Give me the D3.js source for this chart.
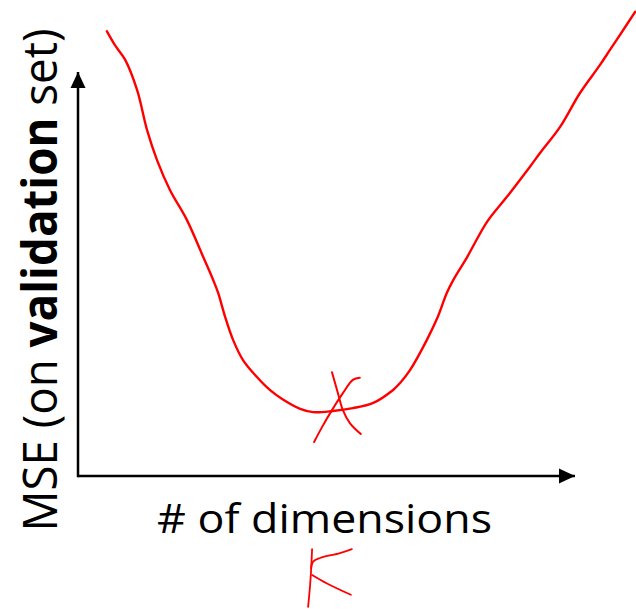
<!DOCTYPE html>
<html>
<head>
<meta charset="utf-8">
<script src="https://cdn.jsdelivr.net/npm/d3@7"></script>
<style>
  body { margin: 0; background: #fff; }
  svg { display: block; }
  text { font-family: "Open Sans", "Noto Sans", sans-serif; fill: #000; }
</style>
</head>
<body>
<div id="chart"></div>
<script>
// validation error curve (x = # of dimensions, y = MSE)
var curveX = [0.58, 0.74, 0.95, 1.19, 1.39, 1.59, 1.85, 2.19, 2.52, 2.72, 2.82, 2.96, 3.12, 3.32, 3.60, 3.86, 4.10, 4.47, 4.73, 5.13, 5.53, 5.94, 6.34, 6.48, 6.68, 7.02, 7.24, 7.42, 7.55, 7.83, 8.23, 8.63, 9.09, 9.30, 9.70, 10.10, 10.50, 10.70, 10.97, 11.21];
var curveY = [11.01, 10.67, 10.30, 9.55, 8.56, 7.82, 7.08, 6.34, 5.42, 4.85, 4.53, 3.94, 3.37, 2.87, 2.45, 2.13, 1.91, 1.66, 1.58, 1.61, 1.68, 1.81, 2.13, 2.30, 2.62, 3.37, 3.94, 4.53, 4.85, 5.42, 6.29, 6.91, 7.65, 8.00, 8.64, 9.48, 10.17, 10.54, 11.04, 11.49];

// hand-drawn "X" at the minimum
var cross1X = [5.11, 5.23, 5.33, 5.47, 5.69];
var cross1Y = [2.57, 2.05, 1.63, 1.31, 1.04];
var cross2X = [5.67, 5.53, 5.33, 5.11, 4.91, 4.75];
var cross2Y = [2.43, 2.38, 2.05, 1.63, 1.21, 0.84];

// hand-drawn "K" under the axis label
var kStemX = [4.71, 4.69, 4.67, 4.63];
var kStemY = [-1.81, -2.33, -2.70, -3.24];
var kArm1X = [5.51, 5.27, 4.87, 4.73, 4.69];
var kArm1Y = [-1.81, -1.91, -2.03, -2.12, -2.28];
var kArm2X = [4.71, 5.01, 5.49];
var kArm2Y = [-2.45, -2.66, -2.94];

var xLabel = "# of dimensions";
var yLabelParts = [["MSE (on ", "normal"], ["validation", "bold"], [" set)", "normal"]];

var W = 636, H = 609;
var margin = { left: 78, right: 61, top: 72, bottom: 133 };

var svg = d3.select("#chart").append("svg")
    .attr("width", W)
    .attr("height", H);

var x = d3.scaleLinear().domain([0, 10]).range([margin.left, W - margin.right]);
var y = d3.scaleLinear().domain([0, 10]).range([H - margin.bottom, margin.top]);

// arrow marker
svg.append("defs").append("marker")
    .attr("id", "arrow")
    .attr("viewBox", "0 0 16 16")
    .attr("refX", 16)
    .attr("refY", 8)
    .attr("markerWidth", 16)
    .attr("markerHeight", 16)
    .attr("markerUnits", "userSpaceOnUse")
    .attr("orient", "auto")
    .append("path")
    .attr("d", "M0,0.5 L16,8 L0,15.5 Z")
    .attr("fill", "#000");

// axes (no ticks, just arrows)
svg.append("line")
    .attr("x1", x(0)).attr("y1", y(0))
    .attr("x2", x(10)).attr("y2", y(0))
    .attr("stroke", "#000").attr("stroke-width", 2.5)
    .attr("marker-end", "url(#arrow)");
svg.append("line")
    .attr("x1", x(0)).attr("y1", y(0) + 1.25)
    .attr("x2", x(0)).attr("y2", y(10))
    .attr("stroke", "#000").attr("stroke-width", 2.5)
    .attr("marker-end", "url(#arrow)");

var line = d3.line()
    .x(function(d) { return x(d[0]); })
    .y(function(d) { return y(d[1]); })
    .curve(d3.curveCatmullRom.alpha(0.5));

function stroke(xs, ys, w) {
    svg.append("path")
        .datum(d3.zip(xs, ys))
        .attr("d", line)
        .attr("fill", "none")
        .attr("stroke", "#ff0000")
        .attr("stroke-width", w)
        .attr("stroke-linecap", "round")
        .attr("stroke-linejoin", "round");
}

stroke(curveX, curveY, 2.4);
stroke(cross1X, cross1Y, 2);
stroke(cross2X, cross2Y, 2);
stroke(kStemX, kStemY, 1.8);
stroke(kArm1X, kArm1Y, 1.8);
stroke(kArm2X, kArm2Y, 1.8);

// x label
svg.append("text")
    .attr("x", 324.5)
    .attr("y", 533)
    .attr("text-anchor", "middle")
    .attr("font-size", 41)
    .attr("textLength", 335)
    .attr("lengthAdjust", "spacingAndGlyphs")
    .text(xLabel);

// y label, rotated
var yl = svg.append("text")
    .attr("transform", "translate(57,280) rotate(-90)")
    .attr("text-anchor", "middle")
    .attr("font-size", 48)
    .attr("textLength", 503)
    .attr("lengthAdjust", "spacingAndGlyphs");
yLabelParts.forEach(function(p) {
    yl.append("tspan")
        .attr("font-weight", p[1])
        .text(p[0]);
});
</script>
</body>
</html>
